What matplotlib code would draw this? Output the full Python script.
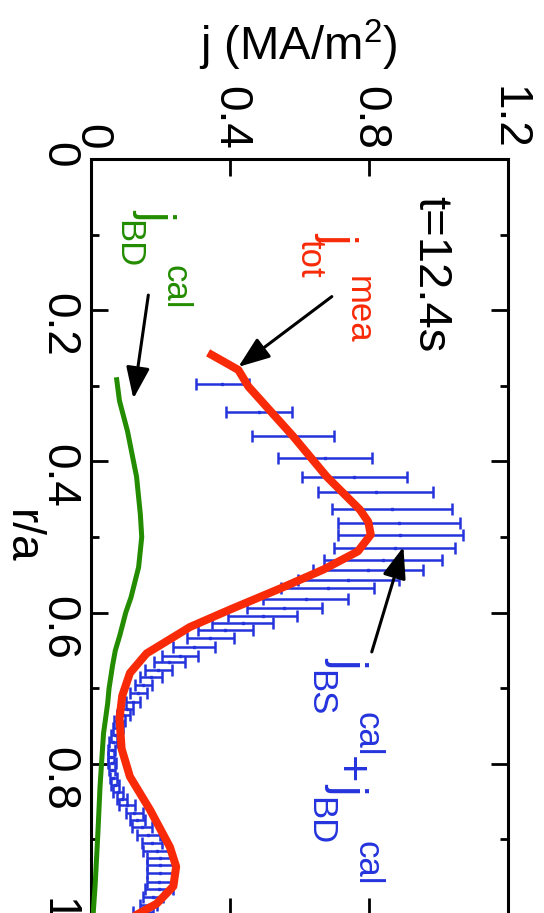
import matplotlib.pyplot as plt
import numpy as np

plt.rcParams['font.family'] = ['Liberation Sans', 'DejaVu Sans']
plt.rcParams['mathtext.fontset'] = 'custom'
plt.rcParams['mathtext.rm'] = 'Liberation Sans'
plt.rcParams['mathtext.default'] = 'regular'

RED = '#f82a08'
BLUE = '#2433dc'
GREEN = '#238c00'

# measured total current density j_tot^mea
r_mea = [0.259, 0.279, 0.301, 0.367, 0.420, 0.464, 0.480, 0.497, 0.519, 0.543,
         0.568, 0.595, 0.619, 0.654, 0.680, 0.710, 0.740, 0.780, 0.817, 0.861,
         0.910, 0.936, 0.962, 0.985, 1.0]
j_mea = [0.347, 0.424, 0.453, 0.582, 0.678, 0.774, 0.798, 0.805, 0.768, 0.669,
         0.545, 0.405, 0.285, 0.160, 0.112, 0.090, 0.082, 0.088, 0.112, 0.170,
         0.227, 0.245, 0.237, 0.189, 0.130]

# calculated j_BS + j_BD, lower / upper bound of each error bar
r_bs = [0.297, 0.335, 0.367, 0.395, 0.420, 0.441, 0.463, 0.481, 0.497, 0.515,
        0.530, 0.543, 0.557, 0.568, 0.582, 0.594, 0.605, 0.614, 0.623, 0.634,
        0.646, 0.658, 0.665, 0.676, 0.685, 0.696, 0.707, 0.718, 0.727, 0.735,
        0.744, 0.753, 0.762, 0.771, 0.782, 0.791, 0.799, 0.808, 0.819, 0.828,
        0.837, 0.846, 0.854, 0.865, 0.874, 0.883, 0.894, 0.905, 0.916, 0.925,
        0.934, 0.945, 0.956, 0.965, 0.976, 0.987, 0.996]
j_bs_lo = [0.301, 0.388, 0.462, 0.539, 0.608, 0.654, 0.694, 0.710, 0.710, 0.700,
           0.671, 0.640, 0.597, 0.547, 0.496, 0.448, 0.395, 0.347, 0.309, 0.275,
           0.237, 0.203, 0.181, 0.155, 0.141, 0.127, 0.111, 0.100, 0.088, 0.074,
           0.066, 0.062, 0.057, 0.053, 0.050, 0.050, 0.050, 0.053, 0.055, 0.057,
           0.062, 0.074, 0.081, 0.101, 0.112, 0.117, 0.131, 0.146, 0.150, 0.160,
           0.160, 0.162, 0.160, 0.155, 0.149, 0.141, 0.122]
j_bs_hi = [0.455, 0.579, 0.700, 0.809, 0.908, 0.985, 1.040, 1.062, 1.071, 1.047,
           1.009, 0.954, 0.885, 0.815, 0.740, 0.664, 0.594, 0.525, 0.465, 0.412,
           0.357, 0.309, 0.270, 0.232, 0.203, 0.175, 0.160, 0.140, 0.120, 0.112,
           0.098, 0.091, 0.079, 0.074, 0.069, 0.066, 0.072, 0.069, 0.074, 0.081,
           0.093, 0.103, 0.127, 0.149, 0.155, 0.175, 0.198, 0.203, 0.227, 0.237,
           0.237, 0.237, 0.232, 0.237, 0.208, 0.189, 0.179]

# calculated beam driven current j_BD^cal
r_bd = [0.292, 0.320, 0.360, 0.420, 0.470, 0.500, 0.540, 0.580, 0.600, 0.630,
        0.650, 0.670, 0.700, 0.720, 0.760, 0.830, 0.890, 0.960, 1.0]
j_bd = [0.074, 0.082, 0.105, 0.131, 0.142, 0.146, 0.137, 0.115, 0.100, 0.083,
        0.070, 0.062, 0.052, 0.048, 0.036, 0.026, 0.020, 0.012, 0.006]

j_ticks = [0, 0.4, 0.8, 1.2]
j_ticklabels = ['0', '0.4', '0.8', '1.2']
r_ticks = [0, 0.2, 0.4, 0.6, 0.8, 1.0]
r_ticklabels = ['0', '0.2', '0.4', '0.6', '0.8', '1']

fig = plt.figure(figsize=(5.44, 9.13), dpi=100)
ax = fig.add_axes([91 / 544, -2 / 913, 417 / 544, 756 / 913])

lo = np.array(j_bs_lo)
hi = np.array(j_bs_hi)
ax.errorbar((lo + hi) / 2, r_bs, xerr=(hi - lo) / 2, fmt='s', ms=2,
            color=BLUE, ecolor=BLUE, elinewidth=1.8, capsize=4.5, capthick=1.8,
            zorder=2)
ax.plot(j_mea, r_mea, color=RED, lw=5.8, zorder=3)
ax.plot(j_bd, r_bd, color=GREEN, lw=3.6, zorder=3)

ax.set_xlim(0, 1.2)
ax.set_ylim(1.0, 0)
ax.set_xticks(j_ticks)
ax.set_xticklabels(j_ticklabels)
ax.set_yticks(r_ticks)
ax.set_yticklabels(r_ticklabels)
ax.set_yticks(np.arange(0.1, 1.0, 0.2), minor=True)

ax.tick_params(which='both', direction='in', top=True, bottom=True,
               left=True, right=True, width=2, labelsize=33)
ax.tick_params(which='major', length=12)
ax.tick_params(which='minor', length=6)
ax.tick_params(axis='x', labeltop=True, labelbottom=False, labelrotation=-90, pad=6.5)
ax.tick_params(axis='y', labelrotation=-90, pad=8)
for s in ax.spines.values():
    s.set_linewidth(2.2)

fig.text(298 / 544, 1 - 45 / 913, 'j (MA/m$^2$)', ha='center', va='center', fontsize=34)
fig.text(21 / 544, 1 - 537 / 913, 'r/a', ha='center', va='center',
         rotation=-90, fontsize=33)

def label(x, y, s, color, size):
    ax.text(x, y, s, color=color, fontsize=size, rotation=-90,
            ha='center', va='center')

label(0.976, 0.152, 't=12.4s', 'black', 34)

label(0.708, 0.103, 'j', RED, 34)
label(0.630, 0.132, 'tot', RED, 25)
label(0.768, 0.199, 'mea', RED, 25)

label(0.184, 0.073, 'j', GREEN, 34)
label(0.104, 0.112, 'BD', GREEN, 25)
label(0.243, 0.170, 'cal', GREEN, 25)

label(0.737, 0.665, 'j', BLUE, 34)
label(0.659, 0.707, 'BS', BLUE, 25)
label(0.794, 0.761, 'cal', BLUE, 25)
label(0.742, 0.808, '+', BLUE, 34)
label(0.737, 0.832, 'j', BLUE, 34)
label(0.659, 0.876, 'BD', BLUE, 25)
label(0.794, 0.932, 'cal', BLUE, 25)

arrow = dict(arrowstyle='-|>,head_length=0.8,head_width=0.3', color='black',
             lw=2.2, mutation_scale=24, shrinkA=0, shrinkB=0)
ax.annotate('', xy=(0.424, 0.275), xytext=(0.693, 0.182), arrowprops=arrow)
ax.annotate('', xy=(0.122, 0.317), xytext=(0.165, 0.180), arrowprops=arrow)
ax.annotate('', xy=(0.899, 0.513), xytext=(0.808, 0.652), arrowprops=arrow)

fig.savefig('out.png', dpi=100)
